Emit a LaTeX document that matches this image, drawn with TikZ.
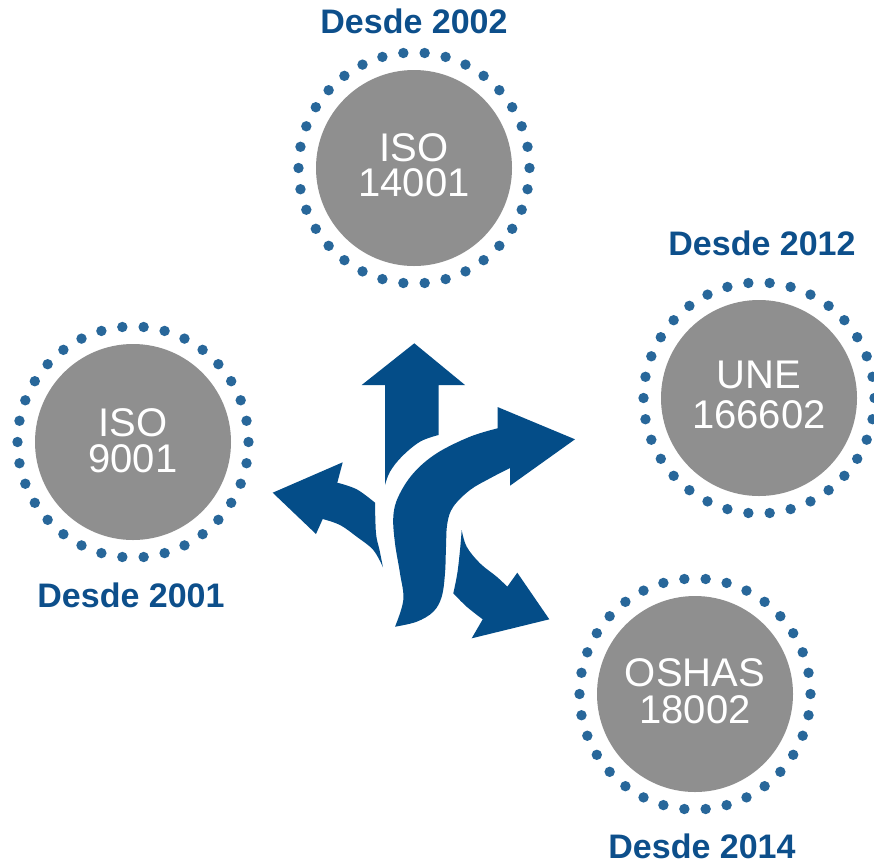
\documentclass[tikz,border=0pt]{standalone}
\usepackage{fontspec}
\setmainfont{Liberation Sans}
\definecolor{arrowblue}{HTML}{044D88}
\definecolor{dotblue}{HTML}{28679A}
\definecolor{textblue}{HTML}{0D4F8B}
\definecolor{discgray}{HTML}{8F8F8F}
\begin{document}
\begin{tikzpicture}[x=1pt,y=-1pt,
  disc/.style={circle,fill=discgray,minimum size=196pt,inner sep=0pt},
  lbl/.style={text=textblue,font=\fontsize{34}{36}\selectfont\bfseries,anchor=base,inner sep=0pt,text depth=0pt},
  ctext/.style={text=white,align=center,anchor=base,inner sep=0pt},
  arr/.style={fill=arrowblue,draw=none}]
\useasboundingbox (0,0) rectangle (874,863);
\newcommand\dotring[1]{%
  \foreach \k in {0,...,33}{\fill[dotblue] (#1) ++({95.294+\k*10.588}:115.5) circle (5.2);}}
% circles
\node[disc] (c1) at (414,168) {};
\node[disc] (c2) at (133,442) {};
\node[disc] (c3) at (759,398) {};
\node[disc] (c4) at (695,694) {};
\dotring{c1}\dotring{c2}\dotring{c3}\dotring{c4}
\node[ctext,font=\fontsize{40}{35}\selectfont] (t1) at (414,196.7) {ISO\\14001};
\node[ctext,font=\fontsize{40}{36}\selectfont] (t2) at (133,472.3) {ISO\\9001};
\node[ctext,font=\fontsize{40}{40}\selectfont] (t3) at (759,428.3) {UNE\\166602};
\node[ctext,font=\fontsize{40}{37}\selectfont] (t4) at (695,723.3) {OSHAS\\18002};
% labels
\node[lbl] (l1) at (414,33) {Desde 2002};
\node[lbl] (l2) at (131,607) {Desde 2001};
\node[lbl] (l3) at (762,255) {Desde 2012};
\node[lbl] (l4) at (702,858) {Desde 2014};
% up arrow
\fill[arr] (414.3,343.3) -- (465,385) -- (438.5,385) -- (438.5,435)
  -- plot[smooth,tension=0.6] coordinates {(438.5,435) (420,441.7) (401.7,456.7) (390,471.7) (385,485)}
  -- (385,385) -- (361.7,385) -- cycle;
% big S arrow
\fill[arr] (575,439.3) -- (497.5,407) -- (497.7,428.3)
  -- plot[smooth,tension=0.6] coordinates {(497.7,428.3) (470,436.7) (436.7,453.3) (413.3,473.3) (398.3,496.7) (393.3,516.7) (395,543.3) (400,573.3) (403.3,600) (395,626.7)}
  -- plot[smooth,tension=0.6] coordinates {(395,626.7) (416.7,621.7) (433.3,611.7) (441.7,596.7) (445,573.3) (446,546.7) (447.3,523.3) (453.3,506.7) (470,490) (490,478.3) (510,468)}
  -- (510,485.7) -- cycle;
% left arrow
\fill[arr] (272.7,492.7) -- (342.7,462.3) -- (337.3,482.7)
  -- plot[smooth,tension=0.6] coordinates {(337.3,482.7) (356.7,489.3) (375,502.7)}
  -- plot[smooth,tension=0.6] coordinates {(375,502.7) (376,533.3) (379.5,550) (383,567.3)}
  -- plot[smooth,tension=0.6] coordinates {(383,567.3) (373.3,550) (356.7,536.7) (340,525) (322.7,519)}
  -- (316,534) -- cycle;
% bottom-right arrow
\fill[arr] (549.3,619.3) -- (517.3,572.7) -- (507.3,586.7)
  -- plot[smooth,tension=0.6] coordinates {(507.3,586.7) (496.7,576.7) (480,563.3) (466.7,546.7) (461.7,530)}
  -- plot[smooth,tension=0.6] coordinates {(461.7,530) (460,550) (457.3,573.3) (453.3,593.3)}
  -- plot[smooth,tension=0.6] coordinates {(453.3,593.3) (466.7,606.7) (482.7,619.3)}
  -- (471.7,638.3) -- cycle;
\end{tikzpicture}
\end{document}
